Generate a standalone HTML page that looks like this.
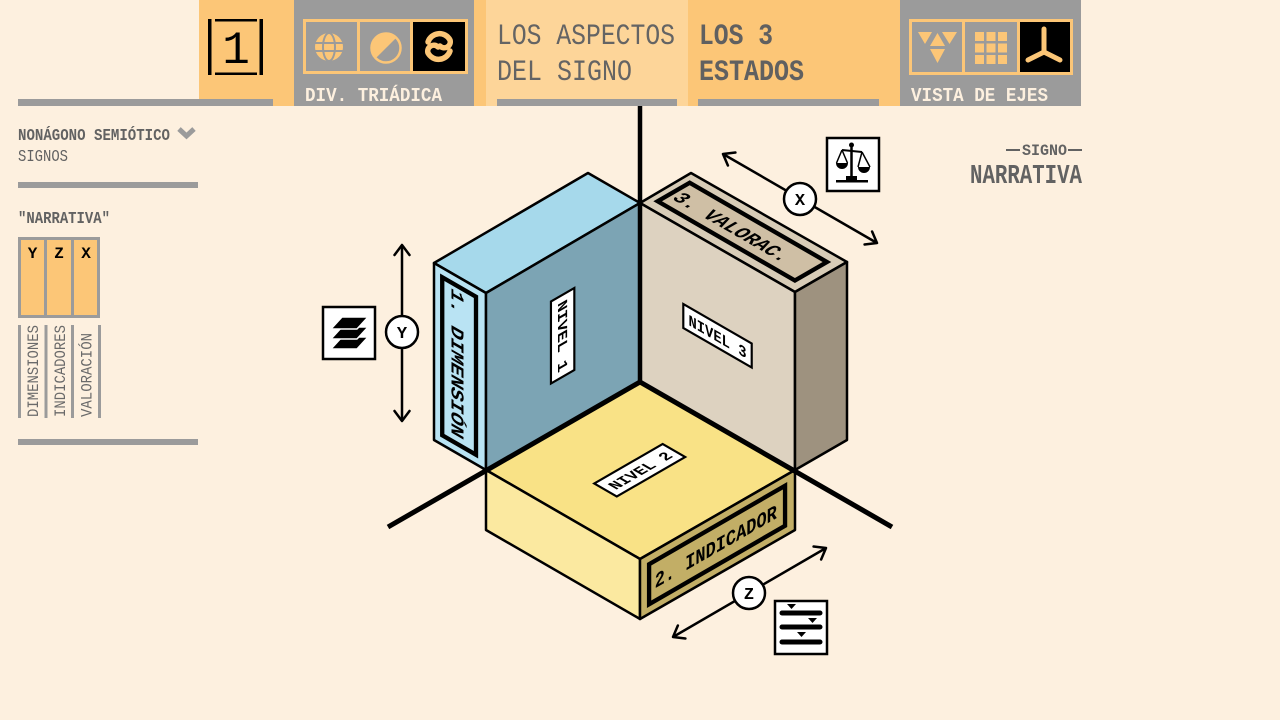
<!DOCTYPE html>
<html>
<head>
<meta charset="utf-8">
<style>
html,body{margin:0;padding:0;background:#fdf0df;}
svg{display:block;}
</style>
</head>
<body>
<svg width="1280" height="720" viewBox="0 0 1280 720" xmlns="http://www.w3.org/2000/svg" font-family="'Liberation Mono','DejaVu Sans Mono',monospace">
<defs>
<marker id="ah" markerUnits="userSpaceOnUse" markerWidth="30" markerHeight="30" refX="0" refY="0" orient="auto-start-reverse" overflow="visible">
<path d="M-10,-7.5 L0,0 L-10,7.5" fill="none" stroke="#000" stroke-width="2.5" stroke-linecap="round" stroke-linejoin="round"/>
</marker>
</defs>
<rect width="1280" height="720" fill="#fdf0df"/>

<!-- HEADER -->
<rect x="199" y="0" width="95" height="106" fill="#fcc677"/>
<rect x="294" y="0" width="180" height="106" fill="#9b9b9b"/>
<rect x="474" y="0" width="12" height="106" fill="#fcc677"/>
<rect x="486" y="0" width="202" height="106" fill="#fdd599"/>
<rect x="688" y="0" width="212" height="106" fill="#fcc677"/>
<rect x="900" y="0" width="181" height="106" fill="#9b9b9b"/>
<rect x="18" y="99" width="255" height="7" fill="#9b9b9b"/>
<rect x="497" y="99" width="180" height="7" fill="#9b9b9b"/>
<rect x="698" y="99" width="181" height="7" fill="#9b9b9b"/>

<!-- [1] icon -->
<rect x="208" y="19" width="3.5" height="56" fill="#000"/>
<rect x="259.5" y="19" width="3.5" height="56" fill="#000"/>
<rect x="215" y="19" width="42" height="2.5" fill="#000"/>
<rect x="215" y="72.5" width="42" height="2.5" fill="#000"/>
<text x="236" y="63" font-size="46" text-anchor="middle" fill="#000">1</text>

<!-- block 2 icons -->
<rect x="413" y="22" width="52" height="50" fill="#000"/>
<rect x="304.5" y="20.5" width="162" height="52" fill="none" stroke="#fcc677" stroke-width="3"/>
<line x1="358.5" y1="20" x2="358.5" y2="73" stroke="#fcc677" stroke-width="3"/>
<line x1="411.5" y1="20" x2="411.5" y2="73" stroke="#fcc677" stroke-width="3"/>
<circle cx="329" cy="47" r="14" fill="#fcc677"/>
<ellipse cx="329" cy="47" rx="6" ry="14" fill="none" stroke="#9b9b9b" stroke-width="2"/>
<line x1="315" y1="43" x2="343" y2="43" stroke="#9b9b9b" stroke-width="2"/>
<line x1="315" y1="51" x2="343" y2="51" stroke="#9b9b9b" stroke-width="2"/>
<circle cx="386" cy="48" r="14.5" fill="none" stroke="#fcc677" stroke-width="2.5"/>
<path d="M375.7,58.3 A14.5,14.5 0 0 1 396.3,37.7 Z" fill="#fcc677"/>
<g fill="none" stroke="#fcc677" stroke-width="5.5" stroke-linecap="round">
<path d="M428,42 A12,12 0 0 1 450,40 A6,6 0 0 1 440,46"/>
<path d="M450,51 A12,12 0 0 1 428,53 A6,6 0 0 1 438,47"/>
</g>
<text x="305" y="101" font-size="19" font-weight="bold" fill="#fdf0df" textLength="137" lengthAdjust="spacingAndGlyphs">DIV. TRIÁDICA</text>

<!-- block 3/4 texts -->
<text x="497" y="44" font-size="30" fill="#646464" textLength="178" lengthAdjust="spacingAndGlyphs">LOS ASPECTOS</text>
<text x="497" y="80" font-size="30" fill="#646464" textLength="135" lengthAdjust="spacingAndGlyphs">DEL SIGNO</text>
<text x="699" y="44" font-size="30" font-weight="bold" fill="#606060" textLength="74" lengthAdjust="spacingAndGlyphs">LOS 3</text>
<text x="699" y="80" font-size="30" font-weight="bold" fill="#606060" textLength="105" lengthAdjust="spacingAndGlyphs">ESTADOS</text>

<!-- block 5 icons -->
<rect x="1020" y="22" width="50" height="51" fill="#000"/>
<rect x="910.5" y="20.5" width="161" height="53" fill="none" stroke="#fcc677" stroke-width="3"/>
<line x1="963.5" y1="20" x2="963.5" y2="74" stroke="#fcc677" stroke-width="3"/>
<line x1="1018.5" y1="20" x2="1018.5" y2="74" stroke="#fcc677" stroke-width="3"/>
<g fill="#fcc677">
<polygon points="918,32 932,32 925,44"/>
<polygon points="942,32 957,32 949.5,44"/>
<polygon points="937.5,33 945,46 930,46"/>
<polygon points="930,49 945,49 937.5,63"/>
<rect x="975" y="32" width="9" height="9"/><rect x="986.5" y="32" width="9" height="9"/><rect x="998" y="32" width="9" height="9"/>
<rect x="975" y="43.5" width="9" height="9"/><rect x="986.5" y="43.5" width="9" height="9"/><rect x="998" y="43.5" width="9" height="9"/>
<rect x="975" y="55" width="9" height="9"/><rect x="986.5" y="55" width="9" height="9"/><rect x="998" y="55" width="9" height="9"/>
</g>
<g stroke="#fcc677" stroke-width="5" stroke-linecap="round" fill="none">
<line x1="1044" y1="52" x2="1044" y2="29"/>
<line x1="1044" y1="52" x2="1028" y2="60"/>
<line x1="1044" y1="52" x2="1060" y2="60"/>
</g>
<text x="911" y="101" font-size="19" font-weight="bold" fill="#fdf0df" textLength="137" lengthAdjust="spacingAndGlyphs">VISTA DE EJES</text>

<!-- LEFT SIDEBAR -->
<text x="18" y="140" font-size="17" font-weight="bold" fill="#626262" textLength="152" lengthAdjust="spacingAndGlyphs">NONÁGONO SEMIÓTICO</text>
<polyline points="179,129 186.5,136 194,129" fill="none" stroke="#9b9b9b" stroke-width="5"/>
<text x="18" y="161" font-size="17" fill="#626262" textLength="50" lengthAdjust="spacingAndGlyphs">SIGNOS</text>
<rect x="18" y="182" width="180" height="6" fill="#9b9b9b"/>
<text x="18" y="223" font-size="17" font-weight="bold" fill="#626262" textLength="92" lengthAdjust="spacingAndGlyphs">"NARRATIVA"</text>
<rect x="19.5" y="238.5" width="79" height="78" fill="#fcc677" stroke="#9b9b9b" stroke-width="3"/>
<line x1="45.5" y1="238" x2="45.5" y2="317" stroke="#9b9b9b" stroke-width="3"/>
<line x1="72.5" y1="238" x2="72.5" y2="317" stroke="#9b9b9b" stroke-width="3"/>
<g font-size="16" font-weight="bold" fill="#000" text-anchor="middle">
<text x="32.5" y="258">Y</text><text x="59" y="258">Z</text><text x="86" y="258">X</text>
</g>
<g fill="#9b9b9b">
<rect x="18" y="325" width="3" height="93"/>
<rect x="44.5" y="325" width="3" height="93"/>
<rect x="71" y="325" width="3" height="93"/>
<rect x="98" y="325" width="3" height="93"/>
</g>
<g font-size="16" fill="#6a6a6a">
<text transform="translate(38,417) rotate(-90)" x="0" y="0" textLength="92" lengthAdjust="spacingAndGlyphs">DIMENSIONES</text>
<text transform="translate(65,417) rotate(-90)" x="0" y="0" textLength="92" lengthAdjust="spacingAndGlyphs">INDICADORES</text>
<text transform="translate(91.5,417) rotate(-90)" x="0" y="0" textLength="84" lengthAdjust="spacingAndGlyphs">VALORACIÓN</text>
</g>
<rect x="18" y="439" width="180" height="6" fill="#9b9b9b"/>

<!-- RIGHT TITLE -->
<line x1="1006" y1="150" x2="1020" y2="150" stroke="#626262" stroke-width="2"/>
<line x1="1068" y1="150" x2="1082" y2="150" stroke="#626262" stroke-width="2"/>
<text x="1022" y="155" font-size="16" font-weight="bold" fill="#626262" textLength="45" lengthAdjust="spacingAndGlyphs">SIGNO</text>
<text x="970" y="183" font-size="27" font-weight="bold" fill="#626262" textLength="112" lengthAdjust="spacingAndGlyphs">NARRATIVA</text>

<!-- BOXES -->
<g stroke="#000" stroke-width="2.5" stroke-linejoin="round">
<!-- blue -->
<polygon points="434,263 588,173 640,203 486,293" fill="#a6d9eb"/>
<polygon points="434,263 486,293 486,470 434,440" fill="#b9e3f3"/>
<polygon points="486,293 640,203 640,382 486,470" fill="#7ca4b4"/>
<!-- beige -->
<polygon points="640,203 691,173 847,262 795,292" fill="#d8ccb7"/>
<polygon points="640,203 795,292 795,470 640,382" fill="#ddd2c0"/>
<polygon points="795,292 847,262 847,440 795,470" fill="#9e927f"/>
<!-- yellow -->
<polygon points="640,382 795,470 640,559 486,470" fill="#f9e286"/>
<polygon points="486,470 640,559 640,619 486,530" fill="#fbe9a0"/>
<polygon points="640,559 795,470 795,530 640,619" fill="#c2ae66"/>
</g>

<!-- blue left panel -->
<g transform="matrix(0.866,0.5,0,1,434,263)">
<rect x="9.5" y="9.5" width="39" height="158" fill="#b9e3f3" stroke="#000" stroke-width="5"/>
<text transform="rotate(90)" x="14" y="-20" font-size="21" font-weight="bold" fill="#000" textLength="147" lengthAdjust="spacingAndGlyphs">1. DIMENSIÓN</text>
</g>
<!-- NIVEL 1 -->
<g transform="matrix(0.866,-0.5,0,1,486,293)">
<rect x="75" y="46" width="27" height="82" fill="#fff" stroke="#000" stroke-width="2.5"/>
<text transform="rotate(90)" x="52" y="-83" font-size="16" font-weight="bold" fill="#000" textLength="70" lengthAdjust="spacingAndGlyphs">NIVEL 1</text>
</g>
<!-- beige top panel -->
<g transform="matrix(0.866,0.5,-0.866,0.5,691,173)">
<rect x="9" y="10.5" width="158.5" height="37" fill="#cfbfa5" stroke="#000" stroke-width="5"/>
<text x="14" y="37" font-size="21" font-weight="bold" fill="#000" textLength="128" lengthAdjust="spacingAndGlyphs">3. VALORAC.</text>
</g>
<!-- NIVEL 3 -->
<g transform="matrix(0.866,0.5,0,1,640,203)">
<rect x="50" y="76" width="79" height="24" fill="#fff" stroke="#000" stroke-width="2.5"/>
<text x="56" y="94" font-size="16" font-weight="bold" fill="#000" textLength="67" lengthAdjust="spacingAndGlyphs">NIVEL 3</text>
</g>
<!-- NIVEL 2 -->
<g transform="matrix(0.866,-0.5,0.866,0.5,486,470)">
<rect x="49" y="76" width="79" height="26" fill="#fff" stroke="#000" stroke-width="2.5"/>
<text x="55" y="95" font-size="16" font-weight="bold" fill="#000" textLength="67" lengthAdjust="spacingAndGlyphs">NIVEL 2</text>
</g>
<!-- indicador panel -->
<g transform="matrix(0.866,-0.5,0,1,640,559)">
<rect x="10.5" y="10.5" width="157" height="40" fill="#c2ae66" stroke="#000" stroke-width="5"/>
<text x="17" y="38" font-size="21" font-weight="bold" fill="#000" textLength="141" lengthAdjust="spacingAndGlyphs">2. INDICADOR</text>
</g>

<!-- AXES -->
<g stroke="#000" stroke-linecap="butt">
<line x1="640" y1="106" x2="640" y2="382" stroke-width="4.5"/>
<line x1="640" y1="382" x2="388" y2="527" stroke-width="5"/>
<line x1="640" y1="382" x2="892" y2="527" stroke-width="5"/>
</g>

<!-- ARROWS -->
<g stroke="#000" stroke-width="2.5" fill="none">
<line x1="402" y1="245" x2="402" y2="421" marker-start="url(#ah)" marker-end="url(#ah)"/>
<line x1="723" y1="154" x2="877" y2="243" marker-start="url(#ah)" marker-end="url(#ah)"/>
<line x1="673" y1="637" x2="826" y2="548" marker-start="url(#ah)" marker-end="url(#ah)"/>
</g>
<g stroke="#000" stroke-width="2.5" fill="#fff">
<circle cx="402" cy="332" r="16"/>
<circle cx="800" cy="199" r="16"/>
<circle cx="749" cy="593" r="16"/>
</g>
<g font-size="17" font-weight="bold" fill="#000" text-anchor="middle">
<text x="402" y="338">Y</text>
<text x="800" y="205">X</text>
<text x="749" y="599">Z</text>
</g>

<!-- ICON BOXES -->
<g stroke="#000" stroke-width="2.5" fill="#fff">
<rect x="323" y="307" width="52" height="52"/>
<rect x="827" y="138" width="52" height="53"/>
<rect x="775" y="601" width="52" height="53"/>
</g>
<!-- layers -->
<g fill="#000" stroke="#fff" stroke-width="1.5" stroke-linejoin="round">
<polygon points="342,337 368,337 357,349 331,349"/>
<polygon points="342,327 368,327 357,339 331,339"/>
<polygon points="342,317 368,317 357,329 331,329"/>
</g>
<!-- scales -->
<g fill="#000" stroke="#000">
<circle cx="851.5" cy="145" r="2.5" stroke="none"/>
<line x1="851.5" y1="145" x2="851.5" y2="179" stroke-width="2.5"/>
<line x1="842" y1="150" x2="862" y2="152" stroke-width="2"/>
<line x1="842" y1="150" x2="836.5" y2="163" stroke-width="1.5"/>
<line x1="842" y1="150" x2="847.5" y2="163" stroke-width="1.5"/>
<line x1="862" y1="152" x2="858" y2="167" stroke-width="1.5"/>
<line x1="862" y1="152" x2="870" y2="167" stroke-width="1.5"/>
<path d="M836,163 A6,6 0 0 0 848,163 Z" stroke="none"/>
<path d="M858,167 A6,6 0 0 0 870,167 Z" stroke="none"/>
<rect x="846" y="176" width="11" height="4" stroke="none"/>
<rect x="836" y="180" width="32" height="2.5" stroke="none"/>
</g>
<!-- list icon -->
<g stroke="#000" stroke-width="5" stroke-linecap="round">
<line x1="782" y1="613" x2="820" y2="613"/>
<line x1="782" y1="627" x2="820" y2="627"/>
<line x1="782" y1="642" x2="820" y2="642"/>
</g>
<g fill="#000">
<polygon points="787,604 796,604 791.5,609"/>
<polygon points="808,618 817,618 812.5,623"/>
<polygon points="797,632 806,632 801.5,637"/>
</g>
</svg>
</body>
</html>
